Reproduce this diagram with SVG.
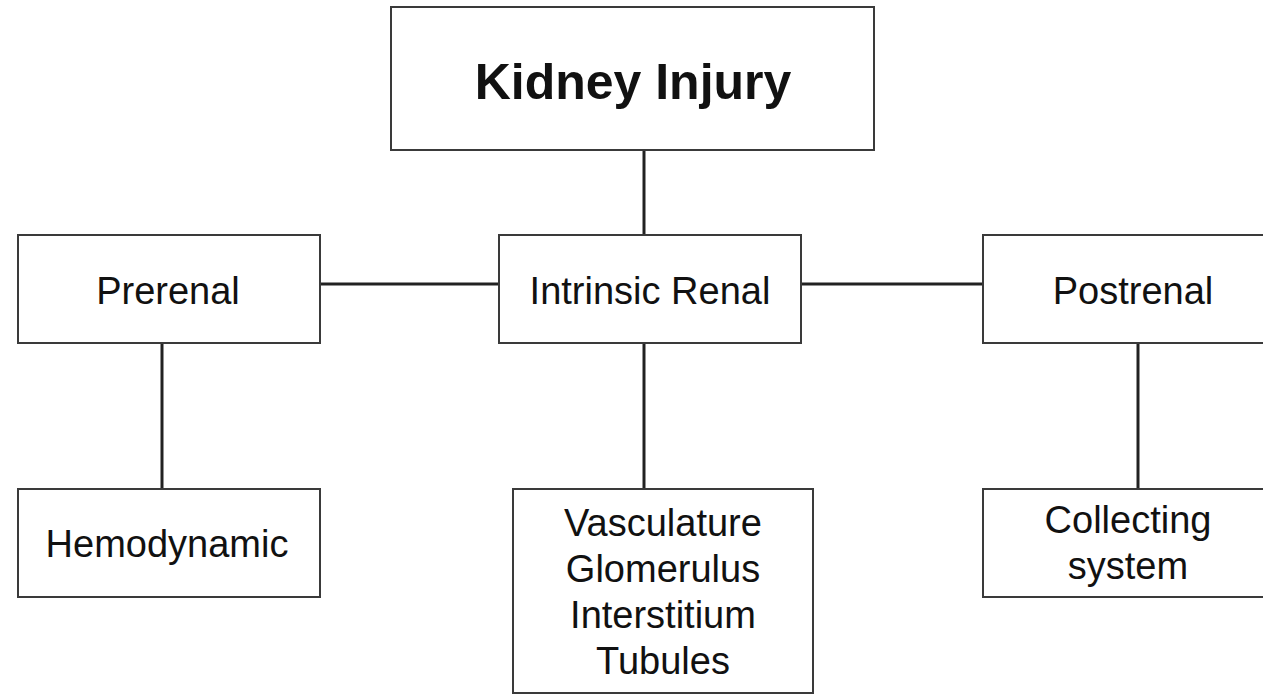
<svg xmlns="http://www.w3.org/2000/svg" width="1263" height="698" viewBox="0 0 1263 698">
<style>
.box{fill:#fff;stroke:#3a3a3a;stroke-width:2}
.t{font-family:"Liberation Sans",Arial,sans-serif;font-size:38px;fill:#111;text-anchor:middle}
.b{font-weight:bold;font-size:50px}
.c{stroke:#222;stroke-width:3;fill:none}
</style>
<rect width="1263" height="698" fill="#fff"/>
<g id="connectors">
<line class="c" x1="644" y1="150" x2="644" y2="235"/>
<line class="c" x1="320" y1="284" x2="499" y2="284"/>
<line class="c" x1="801" y1="284" x2="983" y2="284"/>
<line class="c" x1="162" y1="343" x2="162" y2="489"/>
<line class="c" x1="644" y1="343" x2="644" y2="489"/>
<line class="c" x1="1138" y1="343" x2="1138" y2="489"/>
</g>
<g id="kidney"><rect class="box" x="391" y="7" width="483" height="143"/><text class="t b" x="633" y="99">Kidney Injury</text></g>
<g id="prerenal"><rect class="box" x="18" y="235" width="302" height="108"/><text class="t" x="168" y="304">Prerenal</text></g>
<g id="intrinsic"><rect class="box" x="499" y="235" width="302" height="108"/><text class="t" x="650" y="304">Intrinsic Renal</text></g>
<g id="postrenal"><rect class="box" x="983" y="235" width="300" height="108"/><text class="t" x="1133" y="304">Postrenal</text></g>
<g id="hemodynamic"><rect class="box" x="18" y="489" width="302" height="108"/><text class="t" x="167" y="557">Hemodynamic</text></g>
<g id="sites"><rect class="box" x="513" y="489" width="300" height="204"/><text class="t" x="663" y="536">Vasculature</text><text class="t" x="663" y="582">Glomerulus</text><text class="t" x="663" y="628">Interstitium</text><text class="t" x="663" y="674">Tubules</text></g>
<g id="collecting"><rect class="box" x="983" y="489" width="300" height="108"/><text class="t" x="1128" y="533">Collecting</text><text class="t" x="1128" y="579">system</text></g>
</svg>
